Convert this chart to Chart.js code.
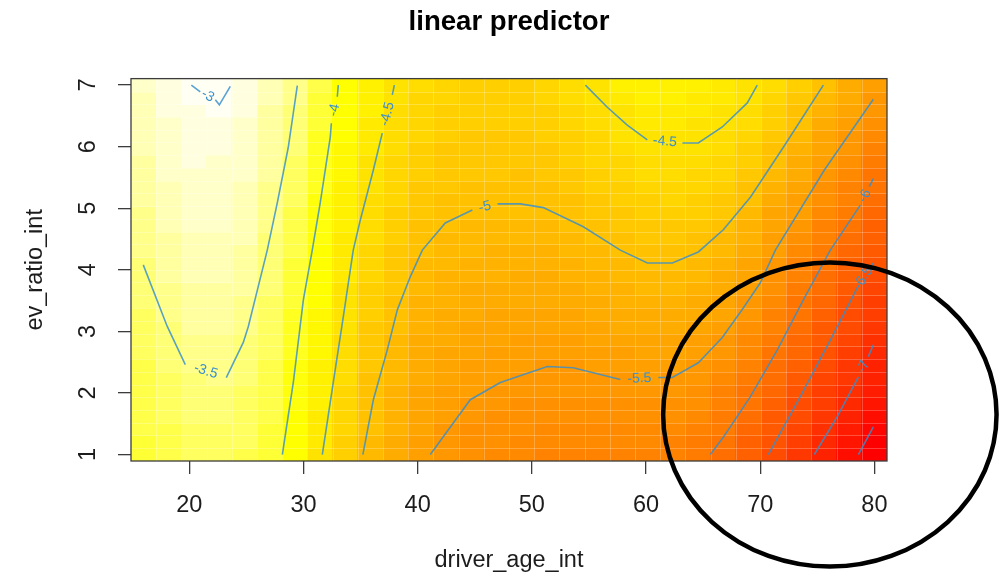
<!DOCTYPE html>
<html>
<head>
<meta charset="utf-8">
<title>linear predictor</title>
<script src="https://cdn.jsdelivr.net/npm/chart.js@4.4.1/dist/chart.umd.min.js"></script>
<style>
  html, body { margin: 0; padding: 0; background: #fff; }
  canvas { display: block; }
</style>
</head>
<body>
<canvas id="lpChart" width="1006" height="579"></canvas>
<script>
// evaluation grid (30 x 30)
const ageGrid = [16.00, 18.21, 20.41, 22.62, 24.83, 27.03, 29.24, 31.45, 33.66, 35.86,
                 38.07, 40.28, 42.48, 44.69, 46.90, 49.10, 51.31, 53.52, 55.72, 57.93,
                 60.14, 62.34, 64.55, 66.76, 68.97, 71.17, 73.38, 75.59, 77.79, 80.00];
const ratioGrid = [1.00, 1.21, 1.41, 1.62, 1.83, 2.03, 2.24, 2.45, 2.66, 2.86,
                   3.07, 3.28, 3.48, 3.69, 3.90, 4.10, 4.31, 4.52, 4.72, 4.93,
                   5.14, 5.34, 5.55, 5.76, 5.97, 6.17, 6.38, 6.59, 6.79, 7.00];

// linear predictor, one row per ratioGrid value (bottom row first), one column per ageGrid value
const predictor = [
  [-3.80,-3.72,-3.66,-3.65,-3.70,-3.85,-4.15,-4.47,-4.78,-5.06,-5.24,-5.43,-5.58,-5.66,-5.72,-5.76,-5.78,-5.79,-5.79,-5.80,-5.82,-5.86,-5.94,-6.08,-6.33,-6.55,-6.83,-7.11,-7.40,-7.68],
  [-3.79,-3.70,-3.64,-3.62,-3.68,-3.83,-4.13,-4.44,-4.76,-5.04,-5.22,-5.41,-5.55,-5.62,-5.68,-5.72,-5.74,-5.75,-5.75,-5.75,-5.76,-5.80,-5.88,-6.02,-6.26,-6.49,-6.76,-7.04,-7.32,-7.60],
  [-3.78,-3.69,-3.61,-3.60,-3.66,-3.80,-4.10,-4.41,-4.73,-5.02,-5.19,-5.39,-5.51,-5.59,-5.64,-5.68,-5.70,-5.71,-5.70,-5.70,-5.71,-5.74,-5.81,-5.96,-6.19,-6.42,-6.69,-6.96,-7.23,-7.52],
  [-3.77,-3.67,-3.59,-3.57,-3.64,-3.78,-4.08,-4.38,-4.71,-5.00,-5.17,-5.37,-5.47,-5.55,-5.60,-5.64,-5.66,-5.67,-5.66,-5.65,-5.65,-5.67,-5.75,-5.91,-6.11,-6.36,-6.61,-6.89,-7.15,-7.44],
  [-3.76,-3.65,-3.57,-3.54,-3.62,-3.76,-4.05,-4.35,-4.68,-4.99,-5.14,-5.35,-5.44,-5.51,-5.55,-5.59,-5.62,-5.62,-5.62,-5.60,-5.60,-5.61,-5.68,-5.85,-6.04,-6.29,-6.54,-6.81,-7.06,-7.36],
  [-3.75,-3.64,-3.55,-3.52,-3.60,-3.74,-4.03,-4.33,-4.66,-4.97,-5.12,-5.33,-5.41,-5.48,-5.51,-5.55,-5.58,-5.58,-5.57,-5.55,-5.54,-5.55,-5.62,-5.79,-5.97,-6.23,-6.47,-6.74,-6.98,-7.28],
  [-3.72,-3.61,-3.51,-3.49,-3.57,-3.72,-4.00,-4.30,-4.63,-4.94,-5.10,-5.30,-5.37,-5.44,-5.48,-5.52,-5.54,-5.54,-5.52,-5.50,-5.49,-5.50,-5.57,-5.72,-5.90,-6.15,-6.39,-6.66,-6.91,-7.20],
  [-3.70,-3.58,-3.48,-3.47,-3.55,-3.70,-3.98,-4.28,-4.61,-4.91,-5.08,-5.28,-5.34,-5.41,-5.45,-5.48,-5.50,-5.50,-5.48,-5.45,-5.43,-5.44,-5.51,-5.65,-5.84,-6.08,-6.32,-6.59,-6.84,-7.12],
  [-3.68,-3.56,-3.45,-3.45,-3.52,-3.67,-3.96,-4.25,-4.58,-4.89,-5.05,-5.25,-5.31,-5.38,-5.42,-5.44,-5.46,-5.45,-5.43,-5.40,-5.37,-5.38,-5.46,-5.58,-5.77,-6.00,-6.24,-6.51,-6.77,-7.05],
  [-3.66,-3.53,-3.42,-3.43,-3.50,-3.65,-3.93,-4.23,-4.56,-4.86,-5.03,-5.23,-5.28,-5.35,-5.38,-5.41,-5.42,-5.41,-5.38,-5.35,-5.32,-5.33,-5.41,-5.52,-5.70,-5.93,-6.17,-6.44,-6.70,-6.97],
  [-3.63,-3.50,-3.39,-3.40,-3.47,-3.63,-3.91,-4.20,-4.53,-4.83,-5.01,-5.20,-5.25,-5.32,-5.35,-5.37,-5.38,-5.37,-5.33,-5.30,-5.26,-5.27,-5.35,-5.45,-5.64,-5.86,-6.10,-6.37,-6.63,-6.89],
  [-3.60,-3.47,-3.37,-3.38,-3.45,-3.62,-3.89,-4.18,-4.51,-4.80,-4.98,-5.17,-5.22,-5.28,-5.31,-5.33,-5.34,-5.32,-5.29,-5.25,-5.21,-5.22,-5.29,-5.39,-5.58,-5.80,-6.03,-6.29,-6.55,-6.82],
  [-3.58,-3.44,-3.34,-3.35,-3.42,-3.60,-3.86,-4.16,-4.48,-4.77,-4.95,-5.14,-5.19,-5.25,-5.27,-5.29,-5.29,-5.28,-5.24,-5.20,-5.16,-5.16,-5.23,-5.33,-5.52,-5.74,-5.97,-6.22,-6.48,-6.74],
  [-3.55,-3.41,-3.32,-3.33,-3.40,-3.58,-3.84,-4.14,-4.46,-4.74,-4.92,-5.11,-5.16,-5.21,-5.24,-5.25,-5.25,-5.24,-5.19,-5.15,-5.11,-5.11,-5.17,-5.28,-5.45,-5.67,-5.91,-6.15,-6.41,-6.66],
  [-3.52,-3.38,-3.29,-3.30,-3.37,-3.56,-3.81,-4.12,-4.43,-4.71,-4.89,-5.08,-5.13,-5.18,-5.20,-5.21,-5.21,-5.19,-5.14,-5.10,-5.06,-5.06,-5.11,-5.22,-5.39,-5.61,-5.84,-6.08,-6.34,-6.58],
  [-3.50,-3.36,-3.27,-3.28,-3.35,-3.54,-3.79,-4.10,-4.41,-4.69,-4.87,-5.05,-5.11,-5.14,-5.16,-5.17,-5.17,-5.15,-5.10,-5.05,-5.00,-5.00,-5.05,-5.16,-5.33,-5.55,-5.78,-6.01,-6.26,-6.50],
  [-3.48,-3.34,-3.25,-3.25,-3.33,-3.52,-3.77,-4.08,-4.38,-4.66,-4.84,-5.01,-5.08,-5.11,-5.12,-5.13,-5.13,-5.11,-5.05,-5.00,-4.95,-4.95,-4.99,-5.10,-5.26,-5.49,-5.71,-5.94,-6.18,-6.43],
  [-3.45,-3.31,-3.22,-3.23,-3.30,-3.50,-3.74,-4.06,-4.36,-4.63,-4.81,-4.98,-5.05,-5.08,-5.09,-5.10,-5.09,-5.06,-5.00,-4.95,-4.90,-4.89,-4.94,-5.04,-5.20,-5.43,-5.63,-5.87,-6.09,-6.35],
  [-3.43,-3.29,-3.20,-3.20,-3.28,-3.48,-3.72,-4.04,-4.33,-4.61,-4.78,-4.94,-5.02,-5.04,-5.05,-5.06,-5.05,-5.02,-4.95,-4.90,-4.84,-4.83,-4.88,-4.98,-5.13,-5.37,-5.56,-5.80,-6.01,-6.27],
  [-3.41,-3.27,-3.18,-3.18,-3.26,-3.46,-3.70,-4.02,-4.31,-4.58,-4.75,-4.90,-4.99,-5.01,-5.01,-5.02,-5.01,-4.97,-4.91,-4.85,-4.79,-4.78,-4.82,-4.92,-5.06,-5.31,-5.49,-5.73,-5.93,-6.20],
  [-3.38,-3.25,-3.16,-3.16,-3.24,-3.44,-3.68,-4.00,-4.28,-4.55,-4.72,-4.87,-4.96,-4.98,-4.98,-4.99,-4.98,-4.93,-4.86,-4.80,-4.74,-4.73,-4.76,-4.86,-5.00,-5.24,-5.42,-5.66,-5.85,-6.12],
  [-3.36,-3.22,-3.14,-3.15,-3.22,-3.42,-3.65,-3.97,-4.26,-4.52,-4.70,-4.84,-4.92,-4.95,-4.95,-4.96,-4.94,-4.89,-4.82,-4.74,-4.68,-4.67,-4.71,-4.80,-4.93,-5.17,-5.36,-5.59,-5.79,-6.04],
  [-3.34,-3.20,-3.13,-3.14,-3.19,-3.40,-3.63,-3.95,-4.23,-4.49,-4.67,-4.81,-4.89,-4.92,-4.92,-4.93,-4.91,-4.86,-4.77,-4.69,-4.63,-4.62,-4.65,-4.73,-4.87,-5.09,-5.29,-5.52,-5.72,-5.97],
  [-3.32,-3.18,-3.11,-3.12,-3.17,-3.38,-3.61,-3.93,-4.21,-4.46,-4.64,-4.78,-4.86,-4.89,-4.89,-4.90,-4.87,-4.82,-4.73,-4.64,-4.58,-4.57,-4.60,-4.67,-4.81,-5.02,-5.22,-5.45,-5.65,-5.89],
  [-3.29,-3.15,-3.09,-3.11,-3.15,-3.36,-3.58,-3.90,-4.18,-4.44,-4.61,-4.75,-4.83,-4.86,-4.86,-4.87,-4.84,-4.78,-4.69,-4.59,-4.53,-4.52,-4.54,-4.61,-4.74,-4.94,-5.15,-5.38,-5.58,-5.81],
  [-3.27,-3.13,-3.07,-3.08,-3.14,-3.35,-3.56,-3.88,-4.16,-4.41,-4.60,-4.72,-4.80,-4.83,-4.84,-4.84,-4.81,-4.74,-4.64,-4.54,-4.48,-4.47,-4.49,-4.56,-4.69,-4.88,-5.09,-5.31,-5.51,-5.73],
  [-3.26,-3.12,-3.05,-3.04,-3.12,-3.33,-3.54,-3.85,-4.14,-4.38,-4.58,-4.70,-4.78,-4.81,-4.82,-4.82,-4.78,-4.70,-4.59,-4.49,-4.43,-4.42,-4.45,-4.52,-4.63,-4.81,-5.02,-5.23,-5.44,-5.66],
  [-3.24,-3.10,-3.03,-3.00,-3.11,-3.31,-3.52,-3.83,-4.12,-4.35,-4.56,-4.67,-4.75,-4.79,-4.80,-4.79,-4.75,-4.66,-4.55,-4.45,-4.38,-4.37,-4.41,-4.47,-4.58,-4.75,-4.95,-5.15,-5.37,-5.58],
  [-3.22,-3.08,-3.01,-2.97,-3.09,-3.30,-3.49,-3.81,-4.09,-4.32,-4.54,-4.65,-4.73,-4.76,-4.77,-4.77,-4.72,-4.62,-4.50,-4.40,-4.33,-4.32,-4.36,-4.43,-4.52,-4.68,-4.89,-5.08,-5.29,-5.50],
  [-3.20,-3.06,-2.99,-2.93,-3.08,-3.28,-3.47,-3.78,-4.07,-4.29,-4.52,-4.62,-4.70,-4.74,-4.75,-4.74,-4.69,-4.58,-4.45,-4.35,-4.28,-4.27,-4.32,-4.38,-4.47,-4.62,-4.82,-5.00,-5.22,-5.42]
];

const ageTicks = [20, 30, 40, 50, 60, 70, 80];
const ratioTicks = [1, 2, 3, 4, 5, 6, 7];

// contour lines as [age, ratio] paths; null marks the gap left for the label
const contourLevels = [-3, -3.5, -4, -4.5, -4.5, -5, -5.5, -6, -6.5, -7, -7.5];
const contourPaths = [
  [[20.18,7.00],[20.96,6.89], null, [22.28,6.76],[22.63,6.68],[23.59,6.98]],
  [[15.97,4.08],[18.07,3.08],[19.65,2.46], null, [23.24,2.25],[24.73,2.82],[25.17,3.08],[26.83,4.32],[27.71,5.09],[28.67,5.99],[29.46,6.99]],
  [[28.15,1.00],[29.11,2.17],[29.99,3.51],[30.77,4.32],[31.47,5.09],[32.35,6.16],[32.44,6.38], null, [32.96,6.81],[33.05,7.00]],
  [[31.65,1.00],[32.61,2.17],[33.49,3.24],[34.36,4.32],[34.98,4.81],[36.12,5.62],[36.90,6.22], null, [37.78,6.84],[37.96,7.00]],
  [[54.69,7.00],[56.61,6.64],[58.36,6.35],[60.11,6.11], null, [63.19,6.06],[64.58,6.06],[66.68,6.32],[68.87,6.71],[69.74,7.00]],
  [[35.20,1.00],[36.12,1.89],[37.34,2.70],[38.22,3.35],[39.36,3.89],[40.41,4.32],[42.42,4.76],[44.79,4.97], null, [47.00,5.07],[48.99,5.07],[51.01,5.01],[54.51,4.70],[57.75,4.32],[60.12,4.11],[62.31,4.11],[64.58,4.29],[66.77,4.65],[69.14,5.18],[72.03,5.99],[75.53,7.00]],
  [[41.11,1.00],[44.61,1.89],[47.24,2.17],[51.36,2.43],[53.63,2.41],[57.75,2.22], null, [61.08,2.25],[62.31,2.25],[64.58,2.49],[66.68,2.90],[68.52,3.38],[70.01,3.79],[71.33,4.32],[75.62,5.62],[79.91,6.77]],
  [[65.63,1.00],[66.77,1.28],[69.14,1.94],[71.50,2.70],[73.78,3.51],[76.14,4.32],[78.77,5.05], null, [79.56,5.35],[79.91,5.48]],
  [[70.71,1.00],[73.51,1.94],[76.14,2.86],[78.51,3.71], null, [79.56,4.02],[79.91,4.11]],
  [[74.74,1.00],[76.76,1.62],[78.60,2.26], null, [79.47,2.59],[79.91,2.78]],
  [[78.60,1.00],[79.91,1.45]]
];

// hand-drawn ring around the oldest drivers / low ratios
const ring = { age: 76.1, ratio: 1.65, ageRadius: 14.6, ratioRadius: 2.47 };

const FONT = '"Liberation Sans", Arial, Helvetica, sans-serif';
const lineColor = 'rgba(52,142,206,0.82)';
const labelColor = '#3a90cc';
const axisColor = '#3c3c3c';
const textColor = '#1c1c1c';

// same palette as R's heat.colors(n)
function hsv(h, s, v) {
  const i = Math.floor(h * 6), f = h * 6 - i;
  const p = v * (1 - s), q = v * (1 - s * f), t = v * (1 - s * (1 - f));
  const rgb = [[v, t, p], [q, v, p], [p, v, t], [p, q, v], [t, p, v], [v, p, q]][i % 6];
  return 'rgb(' + rgb.map(c => Math.round(c * 255)).join(',') + ')';
}
function heatColors(n) {
  const j = Math.floor(n / 4), i = n - j;
  const cols = [];
  for (let k = 0; k < i; k++) cols.push(hsv((k / (i - 1)) / 6, 1, 1));
  const s0 = 1 - 1 / (2 * j), s1 = 1 / (2 * j);
  for (let k = 0; k < j; k++) cols.push(hsv(1 / 6, s0 + (s1 - s0) * k / (j - 1), 1));
  return cols;
}

const palette = heatColors(50);
const allZ = predictor.flat();
const zMin = Math.min(...allZ), zMax = Math.max(...allZ);
function colorFor(z) {
  let k = Math.ceil((z - zMin) / (zMax - zMin) * palette.length) - 1;
  return palette[Math.max(0, Math.min(palette.length - 1, k))];
}

// cell borders halfway between grid points
function cellEdges(c) {
  const n = c.length, e = [c[0] - (c[1] - c[0]) / 2];
  for (let i = 0; i < n - 1; i++) e.push((c[i] + c[i + 1]) / 2);
  e.push(c[n - 1] + (c[n - 1] - c[n - 2]) / 2);
  return e;
}
const ageEdges = cellEdges(ageGrid);
const ratioEdges = cellEdges(ratioGrid);

const imagePlugin = {
  id: 'predictorImage',
  beforeDatasetsDraw(chart) {
    const { ctx, scales: { x, y } } = chart;
    ctx.save();
    predictor.forEach((row, j) => {
      const yTop = y.getPixelForValue(ratioEdges[j + 1]);
      const yBot = y.getPixelForValue(ratioEdges[j]);
      row.forEach((z, i) => {
        const xl = x.getPixelForValue(ageEdges[i]);
        const xr = x.getPixelForValue(ageEdges[i + 1]);
        ctx.fillStyle = colorFor(z);
        ctx.fillRect(Math.floor(xl), Math.floor(yTop), Math.ceil(xr) - Math.floor(xl), Math.ceil(yBot) - Math.floor(yTop));
      });
    });
    // light seams between the image cells
    const top = y.getPixelForValue(ratioEdges[ratioEdges.length - 1]);
    const bottom = y.getPixelForValue(ratioEdges[0]);
    const left = x.getPixelForValue(ageEdges[0]);
    const right = x.getPixelForValue(ageEdges[ageEdges.length - 1]);
    ctx.strokeStyle = 'rgba(255,255,255,0.24)';
    ctx.lineWidth = 1;
    ctx.beginPath();
    ageEdges.slice(1, -1).forEach(a => {
      const px = Math.round(x.getPixelForValue(a)) + 0.5;
      ctx.moveTo(px, top); ctx.lineTo(px, bottom);
    });
    ratioEdges.slice(1, -1).forEach(r => {
      const py = Math.round(y.getPixelForValue(r)) + 0.5;
      ctx.moveTo(left, py); ctx.lineTo(right, py);
    });
    ctx.stroke();
    ctx.restore();
  }
};

const overlayPlugin = {
  id: 'overlay',
  afterDatasetsDraw(chart) {
    const { ctx, scales: { x, y } } = chart;
    // contour labels sit in the gap of each line
    ctx.save();
    ctx.fillStyle = labelColor;
    ctx.font = '14px ' + FONT;
    ctx.textAlign = 'center';
    ctx.textBaseline = 'middle';
    contourPaths.forEach((path, k) => {
      const g = path.indexOf(null);
      if (g < 1) return;
      const a = path[g - 1], b = path[g + 1];
      const ax = x.getPixelForValue(a[0]), ay = y.getPixelForValue(a[1]);
      const bx = x.getPixelForValue(b[0]), by = y.getPixelForValue(b[1]);
      let ang = Math.atan2(by - ay, bx - ax);
      if (ang > Math.PI / 2) ang -= Math.PI;
      if (ang < -Math.PI / 2) ang += Math.PI;
      ctx.save();
      ctx.translate((ax + bx) / 2, (ay + by) / 2);
      ctx.rotate(ang);
      ctx.fillText(String(contourLevels[k]), 0, 0);
      ctx.restore();
    });
    ctx.restore();
  },
  afterDraw(chart) {
    const { ctx, chartArea: ca, scales: { x, y } } = chart;
    ctx.save();
    // plot box
    ctx.strokeStyle = axisColor;
    ctx.lineWidth = 1.3;
    ctx.strokeRect(ca.left, ca.top, ca.right - ca.left, ca.bottom - ca.top);
    // y tick labels, written along the axis
    ctx.fillStyle = textColor;
    ctx.font = '23.5px ' + FONT;
    ctx.textAlign = 'center';
    ctx.textBaseline = 'middle';
    ratioTicks.forEach(v => {
      ctx.save();
      ctx.translate(ca.left - 42, y.getPixelForValue(v));
      ctx.rotate(-Math.PI / 2);
      ctx.fillText(String(v), 0, 0);
      ctx.restore();
    });
    // ring
    ctx.strokeStyle = '#000';
    ctx.lineWidth = 4.5;
    ctx.beginPath();
    const cx = x.getPixelForValue(ring.age), cy = y.getPixelForValue(ring.ratio);
    const rx = x.getPixelForValue(ring.age + ring.ageRadius) - cx;
    const ry = cy - y.getPixelForValue(ring.ratio + ring.ratioRadius);
    ctx.ellipse(cx, cy, rx, ry, 0, 0, Math.PI * 2);
    ctx.stroke();
    ctx.restore();
  }
};

new Chart(document.getElementById('lpChart'), {
  type: 'scatter',
  data: {
    datasets: contourPaths.map((path, k) => ({
      label: String(contourLevels[k]),
      data: path.map(p => p ? { x: p[0], y: p[1] } : { x: null, y: null }),
      showLine: true,
      spanGaps: false,
      borderColor: lineColor,
      borderWidth: 1.6,
      pointRadius: 0,
      tension: 0
    }))
  },
  options: {
    responsive: false,
    animation: false,
    layout: { padding: { top: 0, right: 119, bottom: 0, left: 0 } },
    plugins: {
      legend: { display: false },
      tooltip: { enabled: false },
      title: {
        display: true,
        fullSize: false,
        text: 'linear predictor',
        color: '#000',
        font: { family: FONT, size: 27.6, weight: 'bold' },
        padding: { top: 6, bottom: 39.5 }
      }
    },
    scales: {
      x: {
        type: 'linear',
        min: ageEdges[0],
        max: ageEdges[ageEdges.length - 1],
        afterBuildTicks: s => { s.ticks = ageTicks.map(v => ({ value: v })); },
        afterFit: s => { s.height = 118; },
        border: { display: false },
        grid: { drawOnChartArea: false, drawTicks: true, tickLength: 13, color: axisColor, lineWidth: 1.3 },
        ticks: { autoSkip: false, maxRotation: 0, padding: 17, color: textColor, font: { family: FONT, size: 23.5 } },
        title: { display: true, text: 'driver_age_int', color: textColor, font: { family: FONT, size: 23.5 }, padding: { top: 0, bottom: 4 } }
      },
      y: {
        type: 'linear',
        min: ratioEdges[0],
        max: ratioEdges[ratioEdges.length - 1],
        afterBuildTicks: s => { s.ticks = ratioTicks.map(v => ({ value: v })); },
        afterFit: s => { s.width = 131; },
        border: { display: false },
        grid: { drawOnChartArea: false, drawTicks: true, tickLength: 13, color: axisColor, lineWidth: 1.3 },
        ticks: { display: false },
        title: { display: true, text: 'ev_ratio_int', color: textColor, font: { family: FONT, size: 23.5 }, padding: { top: 21, bottom: 0 } }
      }
    }
  },
  plugins: [imagePlugin, overlayPlugin]
});
</script>
</body>
</html>
